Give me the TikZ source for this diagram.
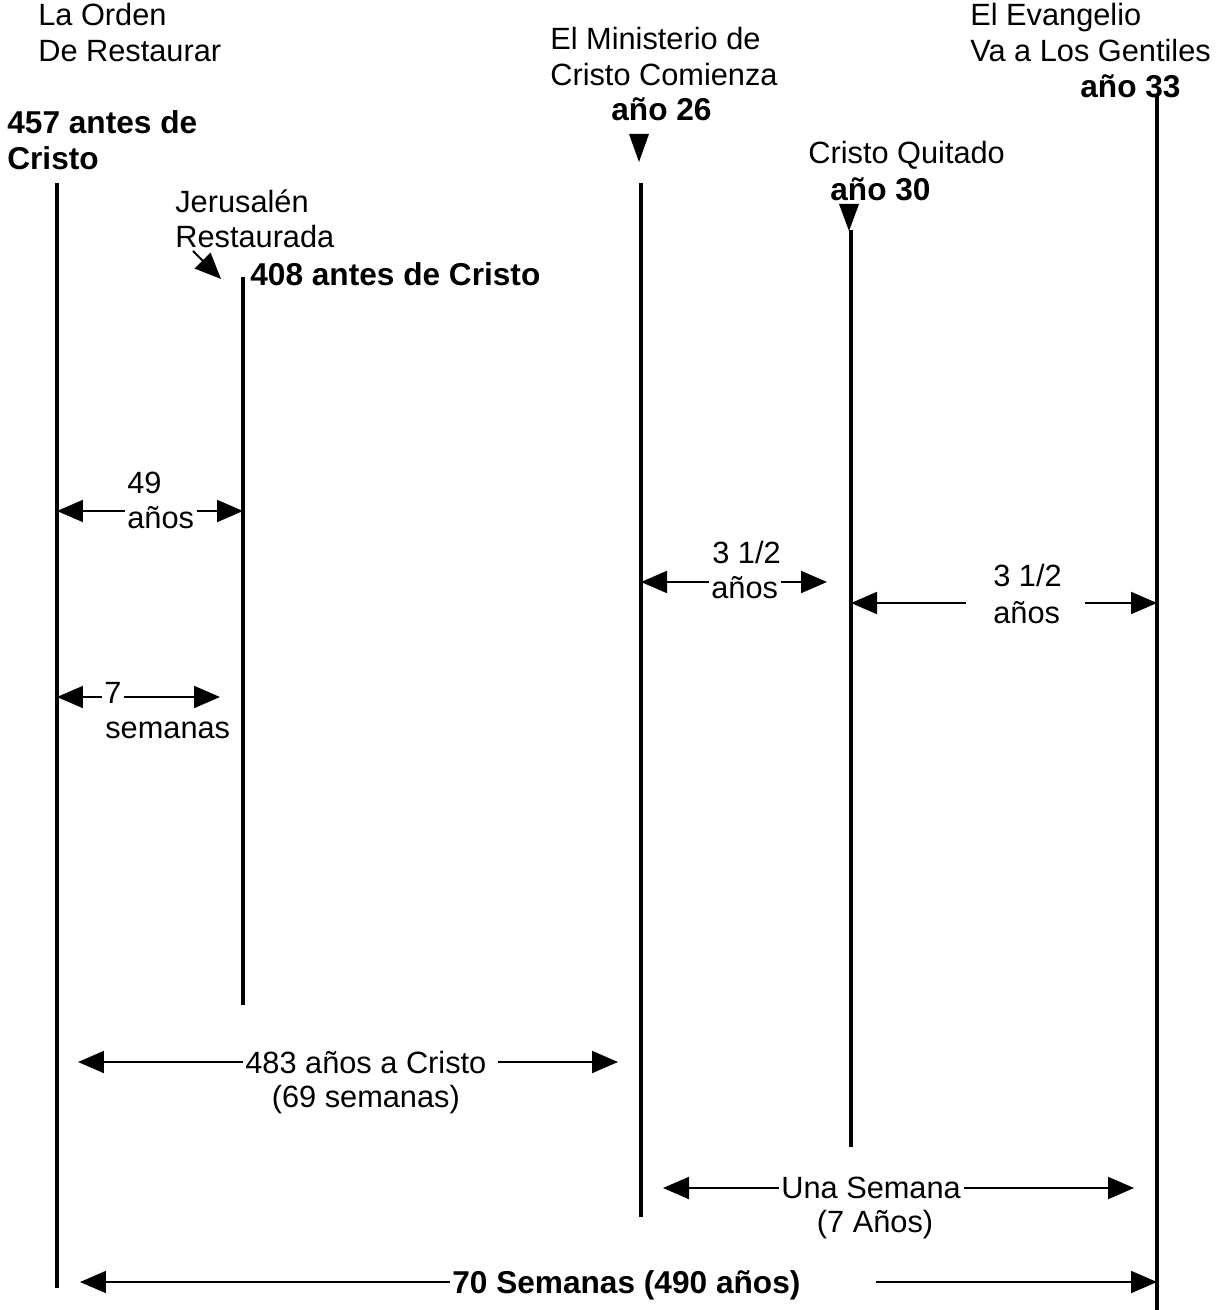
\documentclass[tikz,border=0pt]{standalone}
\usepackage{fontspec}
\setmainfont{Liberation Sans}
\usetikzlibrary{positioning,arrows.meta,calc}

\begin{document}
\begin{tikzpicture}[x=0.02cm,y=-0.02cm,
  lbl/.style={inner sep=0pt,font=\fontsize{17.5}{21}\selectfont},
  yr/.style={inner sep=0pt,font=\fontsize{18}{21}\selectfont\bfseries},
  bar/.style={line width=0.09cm},
  dim/.style={-{Triangle[length=0.52cm,width=0.44cm]},line width=1.1pt,
              shorten <=0.05cm},
  pin/.style={fill=black}]
  \useasboundingbox (0,0) rectangle (1215,1310);

  % the five time bars
  \foreach \n/\x/\t/\b in {b1/57/183/1288,b2/243/277/1005,b3/641/183/1217,
                           b4/851/230/1147,b5/1157/95/1310}{
    \coordinate (\n t) at (\x,\t);
    \coordinate (\n b) at (\x,\b);
    \draw[bar] (\n t) -- (\n b);}

  % headings
  \node[lbl,anchor=base west] (orden1) at (38,26) {La Orden};
  \node[lbl,anchor=base west] (orden2) at (38,62) {De Restaurar};
  \node[yr,anchor=base west]  (d457a)  at (7,134) {457 antes de};
  \node[yr,anchor=base west]  (d457b)  at (7,170) {Cristo};
  \node[lbl,anchor=base west] (jer1)   at (175,213) {Jerusalén};
  \node[lbl,anchor=base west] (jer2)   at (175,248) {Restaurada};
  \node[yr,anchor=base west]  (d408)   at (250,286) {408 antes de Cristo};
  \node[lbl,anchor=base west] (min1)   at (550,50) {El Ministerio de};
  \node[lbl,anchor=base west] (min2)   at (550,86) {Cristo Comienza};
  \node[yr,anchor=base west]  (d26)    at (611,121) {año 26};
  \node[lbl,anchor=base west] (qui)    at (808,164) {Cristo Quitado};
  \node[yr,anchor=base west]  (d30)    at (830,201) {año 30};
  \node[lbl,anchor=base west] (ev1)    at (970,26) {El Evangelio};
  \node[lbl,anchor=base west] (ev2)    at (970,62) {Va a Los Gentiles};
  \node[yr,anchor=base west]  (d33)    at (1080,98) {año 33};

  \fill[pin] (629,134) -- (649,134) -- (639,162) -- cycle;
  \fill[pin] (839,204) -- (859,204) -- (849,231) -- cycle;
  \coordinate (jr) at (193,251);
  \coordinate (jrtip) at (221,279);
  \draw[dim,shorten <=0pt] (jr) -- (jrtip);

  % 49 years / 7 weeks
  \node[lbl,anchor=base west] (n49) at (127,493) {49};
  \node[lbl,anchor=base west] (a49) at (127,528) {años};
  \coordinate (t49l) at (b1t |- 0,511);
  \coordinate (t49r) at (b2t |- 0,511);
  \draw[dim] (a49.west |- t49l) -- (t49l);
  \draw[dim] (a49.east |- t49r) -- (t49r);

  \node[lbl,anchor=base west] (n7) at (104,703) {7};
  \node[lbl,anchor=base west] (s7) at (105,738) {semanas};
  \coordinate (t7l) at (b1t |- 0,697);
  \coordinate (t7r) at (220,697);
  \draw[dim] (n7.west |- t7l) -- (t7l);
  \draw[dim] (n7.east |- t7r) -- (t7r);

  % 3 1/2 years, twice
  \node[lbl,anchor=base west] (h1) at (712,563) {3 1/2};
  \node[lbl,anchor=base west] (y1) at (711,598) {años};
  \coordinate (th1l) at (b3t |- 0,582);
  \coordinate (th1r) at (827,582);
  \draw[dim] (y1.west |- th1l) -- (th1l);
  \draw[dim] (y1.east |- th1r) -- (th1r);

  \node[lbl,anchor=base west] (h2) at (993,586) {3 1/2};
  \node[lbl,anchor=base west] (y2) at (993,623) {años};
  \coordinate (th2l) at (b4t |- 0,603);
  \coordinate (th2r) at (b5t |- 0,603);
  \draw[dim] ([xshift=-0.5cm]y2.west |- th2l) -- (th2l);
  \draw[dim] ([xshift=0.45cm]y2.east |- th2r) -- (th2r);

  % spans at the foot
  \node[lbl,anchor=base west] (s483) at (245,1073) {483 años a Cristo};
  \node[lbl,anchor=base] (w69) at ($(s483.base)+(0,34)$) {(69 semanas)};
  \coordinate (t483l) at (78,1062);
  \coordinate (t483r) at (618,1062);
  \draw[dim] (s483.west |- t483l) -- (t483l);
  \draw[dim] ([xshift=0.18cm]s483.east |- t483r) -- (t483r);

  \node[lbl,anchor=base west] (una) at (781,1198) {Una Semana};
  \node[lbl,anchor=base] (a7) at ($(una.base)+(4,34)$) {(7 Años)};
  \coordinate (tunl) at (663,1188);
  \coordinate (tunr) at (1134,1188);
  \draw[dim] (una.west |- tunl) -- (tunl);
  \draw[dim] (una.east |- tunr) -- (tunr);

  \node[yr,anchor=base west] (s70) at (452,1293) {70 Semanas (490 años)};
  \coordinate (t70l) at (80,1282);
  \coordinate (t70r) at (b5t |- 0,1282);
  \draw[dim] (s70.west |- t70l) -- (t70l);
  \draw[dim] ([xshift=1.45cm]s70.east |- t70r) -- (t70r);
\end{tikzpicture}
\end{document}
